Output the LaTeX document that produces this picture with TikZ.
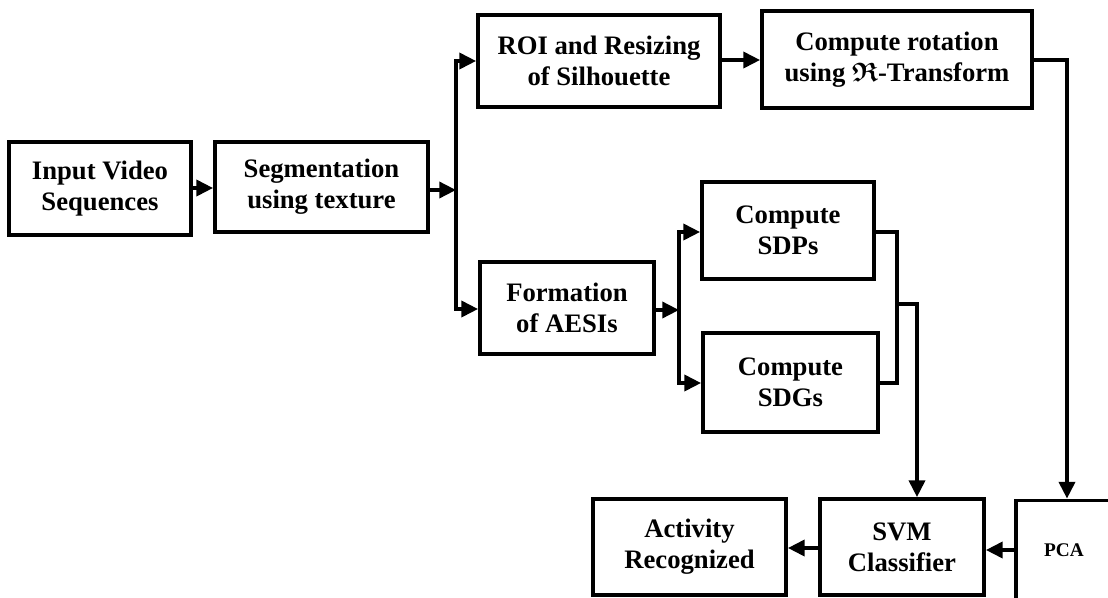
\documentclass[tikz,border=0pt]{standalone}
\usepackage{amsmath,amssymb}
\usepackage{fontspec}
\setmainfont{Liberation Serif}
\usetikzlibrary{arrows.meta}
\begin{document}
\begin{tikzpicture}[x=0.75pt,y=-0.75pt,
  box/.style={draw,line width=2.9pt,rectangle,align=center,inner sep=0pt,
    font=\fontsize{20}{23}\selectfont\bfseries},
  small/.style={font=\fontsize{14.5}{17}\selectfont\bfseries},
  conn/.style={line width=2.6pt},
  arr/.style={conn,-{Triangle[length=12.5pt,width=12pt]}}]
\useasboundingbox (0,0) rectangle (1108,597);
\begin{scope}
\clip (0,0) rectangle (1108,597);
\node[box,minimum width=136.5pt,minimum height=69.75pt] (inp) at (100,188.5) {Input Video\\Sequences};
\node[box,minimum width=159.75pt,minimum height=67.5pt] (seg) at (321.5,187) {Segmentation\\using texture};
\node[box,minimum width=181.5pt,minimum height=69pt] (roi) at (599,61) {ROI and Resizing\\of Silhouette};
\node[box,minimum width=202.5pt,minimum height=72.75pt] (rot) at (897,59.5) {Compute rotation\\using {\boldmath$\mathfrak{R}$}-Transform};
\node[box,minimum width=130.5pt,minimum height=69pt] (form) at (567,308) {Formation\\of AESIs};
\node[box,minimum width=129pt,minimum height=72.75pt] (sdp) at (788,230.5) {Compute\\SDPs};
\node[box,minimum width=131.25pt,minimum height=74.25pt] (sdg) at (790.5,382.5) {Compute\\SDGs};
\node[box,minimum width=144.75pt,minimum height=72pt] (act) at (689.5,547) {Activity\\Recognized};
\node[box,minimum width=123pt,minimum height=72pt] (svm) at (902,547) {SVM\\Classifier};
\node[box,small,minimum width=72pt,minimum height=75pt] (pca) at (1064,550.5) {PCA};

% junctions
\coordinate (v1t) at (456,61);
\coordinate (v1b) at (456,309);
\coordinate (v1m) at (456,190);
\coordinate (v2t) at (679,232);
\coordinate (v2b) at (679,383);
\coordinate (v2m) at (679,310);
\coordinate (r1) at (897,232);
\coordinate (r2) at (897,383);
\coordinate (r3) at (897,304);
\coordinate (r4) at (917,304);
\coordinate (p1) at (1067,60);

\draw[arr] (inp.east |- 0,188) -- (seg.west |- 0,188);
\draw[arr] (seg.east |- v1m) -- (v1m);
\draw[conn,line cap=rect] (v1t) -- (v1b);
\draw[arr] (v1t) -- (roi.west |- v1t);
\draw[arr] (v1b) -- (form.west |- v1b);
\draw[arr] (roi.east |- 0,60) -- (rot.west |- 0,60);
\draw[arr] (rot.east |- p1) -- (p1) -- (pca.north -| p1);
\draw[arr] (form.east |- v2m) -- (v2m);
\draw[conn,line cap=rect] (v2t) -- (v2b);
\draw[arr] (v2t) -- (sdp.west |- v2t);
\draw[arr] (v2b) -- (sdg.west |- v2b);
\draw[conn,line join=miter] (sdp.east |- r1) -- (r1) -- (r2) -- (sdg.east |- r2);
\draw[arr] (r3) -- (r4) -- (svm.north -| r4);
\draw[arr] (pca.west |- 0,550) -- (svm.east |- 0,550);
\draw[arr] (svm.west |- 0,548) -- (act.east |- 0,548);
\end{scope}
\end{tikzpicture}
\end{document}
